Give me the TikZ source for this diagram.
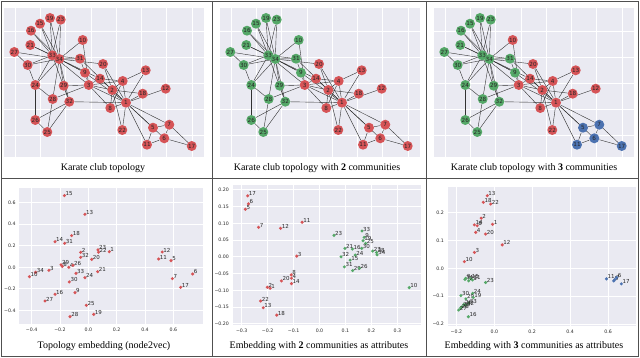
\documentclass[tikz,border=0pt]{standalone}
\usepackage{fontspec}
\setmainfont{Liberation Serif}
\newfontfamily\plotfont{DejaVu Sans}
\definecolor{kred}{HTML}{D65457}
\definecolor{kgreen}{HTML}{55A868}
\definecolor{kblue}{HTML}{4C72B0}
\definecolor{plotbg}{HTML}{EAEAF2}
\definecolor{edgecol}{HTML}{333333}
\definecolor{txt}{HTML}{262626}
\definecolor{framecol}{HTML}{505050}

\pgfdeclarelayer{plotlayer}
\pgfdeclarelayer{edgelayer}
\pgfsetlayers{plotlayer,edgelayer,main}

\tikzset{
  knode/.style={circle, inner sep=0pt, minimum size=10pt, font=\plotfont\fontsize{5.7}{6}\selectfont, text=txt},
  kedge/.style={draw=edgecol, line width=0.4pt},
  gline/.style={draw=white, line width=0.7pt},
  sdot/.style={circle, inner sep=0pt, minimum size=3.4pt},
  slabel/.style={anchor=base west, inner sep=0pt, xshift=1pt, font=\plotfont\fontsize{5.5}{6}\selectfont, text=txt},
  ticklbl/.style={inner sep=0.5pt, font=\plotfont\fontsize{4.7}{5}\selectfont, text=txt},
  captxt/.style={font=\fontsize{10}{12}\selectfont, text=black},
  framel/.style={draw=framecol, line width=0.9pt},
}

% karate club graph, #1 = 1 (one group), 2 or 3 communities
\newcommand{\karate}[1]{%
  \begin{pgfonlayer}{plotlayer}
    \fill[plotbg] (4,8.3) rectangle (203.5,157);
    \foreach \gx in {15,40.3,...,193} \draw[gline] (\gx,8.3) -- (\gx,157);
    \foreach \gy in {31.7,57.7,...,136} \draw[gline] (4,\gy) -- (203.5,\gy);
  \end{pgfonlayer}
  \foreach \n/\x/\y/\cb/\cc in {
    1/126.0/102.7/kred/kred, 2/112.3/90.0/kred/kred, 3/88.7/85.0/kred/kred,
    4/122.7/81.0/kred/kred, 5/153.0/127.7/kred/kblue, 6/164.3/138.3/kred/kblue,
    7/169.3/124.7/kred/kblue, 8/110.3/108.0/kred/kred, 9/85.0/72.7/kgreen/kgreen,
    10/82.7/40.0/kgreen/kred, 11/147.0/144.7/kred/kblue, 12/165.7/88.7/kred/kred,
    13/145.7/70.3/kred/kred, 14/100.0/78.7/kred/kred, 15/40.0/23.7/kgreen/kgreen,
    16/31.0/30.7/kgreen/kgreen, 17/191.7/146.0/kred/kblue, 18/142.7/93.7/kred/kred,
    19/50.0/18.0/kgreen/kgreen, 20/103.0/64.0/kred/kred, 21/30.3/45.0/kgreen/kgreen,
    22/122.3/130.0/kred/kred, 23/60.7/19.7/kgreen/kgreen, 24/35.3/85.0/kgreen/kgreen,
    25/47.3/132.0/kgreen/kgreen, 26/35.3/120.0/kgreen/kgreen, 27/14.3/52.0/kgreen/kgreen,
    28/52.7/99.0/kgreen/kgreen, 29/63.7/85.7/kgreen/kgreen, 30/27.7/65.0/kgreen/kgreen,
    31/80.0/58.7/kgreen/kgreen, 32/69.3/101.7/kgreen/kgreen, 33/52.3/55.3/kgreen/kgreen,
    34/59.3/59.0/kgreen/kgreen}{
    \ifcase#1\or\def\col{kred}\or\let\col\cb\or\let\col\cc\fi
    \node[knode, fill=\col] (\n) at (\x,\y) {\n};
  }
  \begin{pgfonlayer}{edgelayer}
    \foreach \a/\bs in {1/{2,3,4,5,6,7,8,9,11,12,13,14,18,20,22,32},
        2/{3,4,8,14,18,20,22,31}, 3/{4,8,9,10,14,28,29,33}, 4/{8,13,14},
        5/{7,11}, 6/{7,11,17}, 7/{17}, 9/{31,33,34}, 10/{34}, 14/{34},
        15/{33,34}, 16/{33,34}, 19/{33,34}, 20/{34}, 21/{33,34}, 23/{33,34},
        24/{26,28,30,33,34}, 25/{26,28,32}, 26/{32}, 27/{30,34}, 28/{34},
        29/{32,34}, 30/{33,34}, 31/{33,34}, 32/{33,34}, 33/{34}}
      \foreach \b in \bs \draw[kedge] (\a) -- (\b);
  \end{pgfonlayer}
}

% labelled points of an embedding
\newcommand{\scatterpts}[2]{%
  \foreach \n/\x/\y in {#2}{
    \node[sdot, fill=#1] (\n) at (\x,\y) {};
    \node[slabel] (l\n) at (\n.center) {\n};
  }
}

\begin{document}
\begin{tikzpicture}[x=1pt, y=-1pt]
\useasboundingbox (0,0) rectangle (640,358);

% top row: graphs
\begin{scope}[name prefix=a-]
  \karate{1}
\end{scope}
\begin{scope}[shift={(216,0)}, name prefix=b-]
  \karate{2}
\end{scope}
\begin{scope}[shift={(430,0)}, name prefix=c-]
  \karate{3}
\end{scope}

\node[captxt] (cap1) at (103,168) {Karate club topology};
\node[captxt] (cap2) at (317,168) {Karate club topology with \textbf{2} communities};
\node[captxt] (cap3) at (534,168) {Karate club topology with \textbf{3} communities};

% bottom left: node2vec
\begin{scope}[shift={(88.33,267.3)}, x=141.67pt, y=107.7pt, name prefix=d-]
  \begin{pgfonlayer}{plotlayer}
    \fill[plotbg] (-0.487,-0.529) rectangle (0.812,0.739);
    \foreach \t/\l in {-0.4/−0.4,-0.2/−0.2,0/0.0,0.2/0.2,0.4/0.4,0.6/0.6}{
      \draw[gline] (\t,-0.529) -- (\t,0.739);
      \node[ticklbl, anchor=north, yshift=-3pt] at (\t,-0.529) {\l};
    }
    \foreach \t/\l in {-0.4/−0.4,-0.2/−0.2,0/0.0,0.2/0.2,0.4/0.4,0.6/0.6}{
      \draw[gline] (-0.487,\t) -- (0.812,\t);
      \node[ticklbl, anchor=east, xshift=-3pt] at (-0.487,\t) {\l};
    }
  \end{pgfonlayer}
  \scatterpts{kred}{15/-0.169/0.666, 13/-0.024/0.492, 18/-0.118/0.294,
    14/-0.235/0.238, 31/-0.167/0.223, 2/-0.054/0.139, 23/0.068/0.162,
    22/0.072/0.140, 1/0.148/0.145, 32/-0.054/0.093, 20/0.024/0.074,
    12/0.522/0.142, 11/0.496/0.077, 5/0.584/0.062, 29/-0.193/0.024,
    8/-0.184/0.008, 4/-0.138/0.000, 26/-0.108/0.018, 3/-0.278/-0.028,
    34/-0.372/-0.046, 10/-0.416/-0.087, 33/-0.087/-0.056, 24/-0.024/-0.096,
    21/0.066/-0.041, 30/-0.134/-0.136, 7/0.593/-0.105, 6/0.736/-0.062,
    17/0.652/-0.186, 9/-0.094/-0.235, 16/-0.235/-0.251, 27/-0.306/-0.313,
    25/-0.014/-0.353, 19/0.038/-0.437, 28/-0.129/-0.458}
\end{scope}

% bottom middle: 2 communities
\begin{scope}[shift={(319.5,256.8)}, x=259.3pt, y=335pt, name prefix=e-]
  \begin{pgfonlayer}{plotlayer}
    \fill[plotbg] (-0.335,-0.204) rectangle (0.390,0.214);
    \foreach \t/\l in {-0.3/−0.3,-0.2/−0.2,-0.1/−0.1,0/0.0,0.1/0.1,0.2/0.2,0.3/0.3}{
      \draw[gline] (\t,-0.204) -- (\t,0.214);
      \node[ticklbl, anchor=north, yshift=-3pt] at (\t,-0.204) {\l};
    }
    \foreach \t/\l in {-0.2/−0.20,-0.15/−0.15,-0.1/−0.10,-0.05/−0.05,0/0.00,0.05/0.05,0.1/0.10,0.15/0.15,0.2/0.20}{
      \draw[gline] (-0.335,\t) -- (0.390,\t);
      \node[ticklbl, anchor=east, xshift=-3pt] at (-0.335,\t) {\l};
    }
  \end{pgfonlayer}
  \scatterpts{kred}{17/-0.277/0.182, 6/-0.274/0.158, 5/-0.286/0.142,
    7/-0.235/0.088, 12/-0.150/0.085, 11/-0.067/0.103, 3/-0.088/0.002,
    8/-0.109/-0.054, 4/-0.108/-0.064, 14/-0.108/-0.080, 20/-0.147/-0.072,
    2/-0.201/-0.091, 1/-0.190/-0.094, 22/-0.227/-0.132, 13/-0.217/-0.152,
    18/-0.165/-0.174}
  \scatterpts{kgreen}{23/0.056/0.064, 33/0.164/0.077, 9/0.172/0.058,
    19/0.168/0.048, 25/0.178/0.040, 30/0.163/0.025, 21/0.098/0.025,
    16/0.127/0.023, 24/0.138/0.005, 27/0.205/0.017, 28/0.220/0.013,
    34/0.222/0.006, 32/0.083/0.000, 15/0.118/-0.010, 31/0.096/-0.030,
    29/0.128/-0.041, 26/0.154/-0.034, 10/0.346/-0.092}
\end{scope}

% bottom right: 3 communities
\begin{scope}[shift={(494.3,268.3)}, x=189.6pt, y=278.3pt, name prefix=f-]
  \begin{pgfonlayer}{plotlayer}
    \fill[plotbg] (-0.246,-0.207) rectangle (0.746,0.293);
    \foreach \t/\l in {-0.2/−0.2,0/0.0,0.2/0.2,0.4/0.4,0.6/0.6}{
      \draw[gline] (\t,-0.207) -- (\t,0.293);
      \node[ticklbl, anchor=north, yshift=-3pt] at (\t,-0.207) {\l};
    }
    \foreach \t/\l in {-0.2/−0.2,-0.1/−0.1,0/0.0,0.1/0.1,0.2/0.2}{
      \draw[gline] (-0.246,\t) -- (0.746,\t);
      \node[ticklbl, anchor=east, xshift=-3pt] at (-0.246,\t) {\l};
    }
  \end{pgfonlayer}
  \scatterpts{kred}{13/-0.037/0.261, 18/-0.058/0.237, 22/-0.019/0.231,
    2/-0.069/0.180, 1/-0.009/0.158, 14/-0.105/0.156, 8/-0.090/0.153,
    4/-0.098/0.129, 20/-0.046/0.123, 12/0.042/0.084, 3/-0.105/0.057,
    10/-0.158/0.024}
  \scatterpts{kblue}{11/0.592/-0.038, 5/0.630/-0.045, 7/0.636/-0.040,
    6/0.645/-0.033, 17/0.670/-0.056}
  \scatterpts{kgreen}{34/-0.155/-0.040, 9/-0.150/-0.036, 15/-0.125/-0.037,
    21/-0.135/-0.045, 31/-0.115/-0.042, 23/-0.046/-0.051, 30/-0.176/-0.098,
    24/-0.114/-0.090, 29/-0.150/-0.110, 19/-0.111/-0.105, 33/-0.135/-0.125,
    32/-0.150/-0.132, 26/-0.160/-0.130, 25/-0.170/-0.138, 28/-0.178/-0.143,
    27/-0.188/-0.150, 16/-0.137/-0.174}
\end{scope}

\node[captxt] (cap4) at (104,346) {Topology embedding (node2vec)};
\node[captxt] (cap5) at (319,346) {Embedding with \textbf{2} communities as attributes};
\node[captxt] (cap6) at (534,346) {Embedding with \textbf{3} communities as attributes};

% panel frames
\draw[framel] (1,1) rectangle (638.5,356);
\draw[framel] (212,1) -- (212,356);
\draw[framel] (426,1) -- (426,356);
\draw[framel] (1,178) -- (638.5,178);
\end{tikzpicture}
\end{document}
